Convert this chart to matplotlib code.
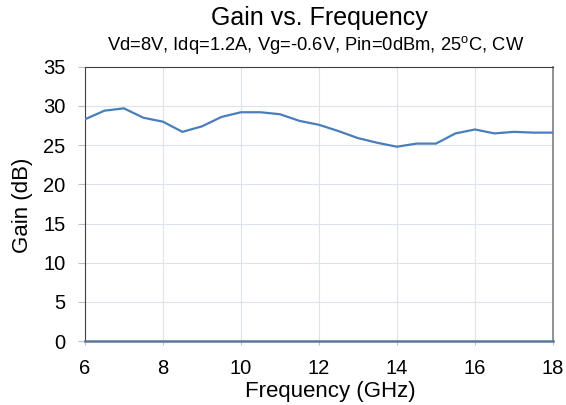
import matplotlib
matplotlib.use("Agg")
import matplotlib.pyplot as plt

plt.rcParams['font.family'] = ['Liberation Sans', 'DejaVu Sans']
plt.rcParams['mathtext.fontset'] = 'custom'
plt.rcParams['mathtext.rm'] = 'Liberation Sans'

freq = [6, 6.5, 7, 7.5, 8, 8.5, 9, 9.5, 10, 10.5, 11, 11.5, 12,
        12.5, 13, 13.5, 14, 14.5, 15, 15.5, 16, 16.5, 17, 17.5, 18]
gain = [28.3, 29.4, 29.7, 28.5, 28.0, 26.7, 27.4, 28.6, 29.2, 29.2, 28.95, 28.1, 27.6,
        26.8, 25.9, 25.3, 24.8, 25.2, 25.2, 26.5, 27.0, 26.5, 26.7, 26.6, 26.6]
xticks = [6, 8, 10, 12, 14, 16, 18]
yticks = [0, 5, 10, 15, 20, 25, 30, 35]

fig = plt.figure(figsize=(5.66, 4.05), dpi=100)
ax = fig.add_axes([0.150, 0.158, 0.827, 0.677])

ax.plot(freq, gain, color="#4A7EBB", linewidth=1.6, zorder=3)

ax.set_xlim(6, 18)
ax.set_ylim(0, 35)
ax.set_xticks(xticks)
ax.set_yticks(yticks)
ax.grid(True, color="#DDE3EC", linewidth=0.8, zorder=0)

ax.tick_params(axis="both", labelsize=14.5, colors="#BFBFBF", labelcolor="black", width=0.8)
ax.tick_params(axis="y", length=5, pad=9)
ax.tick_params(axis="x", length=3, pad=10)

ax.spines["left"].set_color("#404040")
ax.spines["top"].set_color("#404040")
ax.spines["right"].set_color("#909090")
ax.spines["right"].set_linewidth(1.4)
ax.spines["bottom"].set_color("#5B7699")
ax.spines["bottom"].set_linewidth(1.8)

fig.text(0.583, 0.02, "Frequency (GHz)", ha="center", va="baseline", fontsize=16)
fig.text(0.039, 0.494, "Gain (dB)", ha="center", va="center", rotation=90, fontsize=16)

fig.text(0.564, 0.955, "Gain vs. Frequency", ha="center", va="center", fontsize=18)
fig.text(0.557, 0.89, "Vd=8V, Idq=1.2A, Vg=-0.6V, Pin=0dBm, 25$^{\\mathregular{o}}$C, CW",
         ha="center", va="center", fontsize=13.2)

fig.savefig("out.png", dpi=100)
